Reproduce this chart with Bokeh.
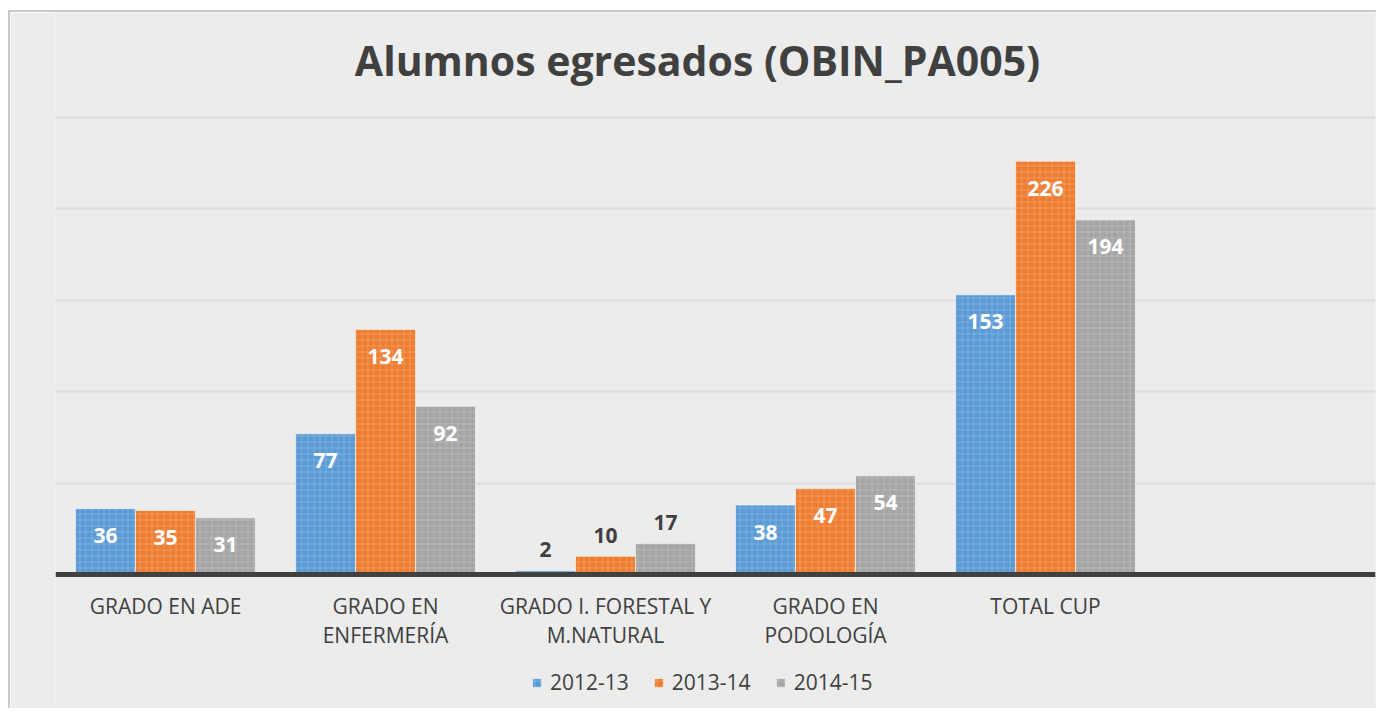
from bokeh.plotting import figure
from bokeh.models import ColumnDataSource, FactorRange, Range1d, FixedTicker, Legend, LegendItem, Label, Span
from bokeh.transform import dodge
from bokeh.core.properties import value
from bokeh.embed import file_html
from bokeh.resources import INLINE

categories = ["GRADO EN ADE", "GRADO EN\nENFERMERÍA", "GRADO I. FORESTAL Y\nM.NATURAL",
              "GRADO EN\nPODOLOGÍA", "TOTAL CUP"]
series_names = ["2012-13", "2013-14", "2014-15"]
y2012 = [36, 77, 2, 38, 153]
y2013 = [35, 134, 10, 47, 226]
y2014 = [31, 92, 17, 54, 194]
y_ticks = [50, 100, 150, 200, 250]
title_text = "Alumnos egresados (OBIN_PA005)"

colors = ["#5B9BD5", "#ED7D31", "#A5A5A5"]
FONT = "Open Sans"
DARK = "#404040"
BG = "#ECECEC"

# frame spans the whole canvas vertically: 457 px for 250 units
PX = 457 / 250
factors = categories + [" "]
p = figure(x_range=FactorRange(*factors), y_range=Range1d(-136 / PX, 562 / PX),
           width=1368, height=698, output_backend="svg", toolbar_location=None,
           min_border_left=45, min_border_right=3, min_border_top=0, min_border_bottom=0)
p.background_fill_color = BG
p.border_fill_color = BG
p.outline_line_color = None
p.styles = {"margin-left": "8px", "margin-top": "10px",
            "border-left": "2px solid #C9C9C9", "border-top": "2px solid #C9C9C9"}
p.xaxis.visible = False
p.yaxis.visible = False

src = ColumnDataSource(dict(cat=categories, s0=y2012, s1=y2013, s2=y2014))

bw = 60 / 220
offsets = [-bw, 0, bw]
renderers = []
for i, off in enumerate(offsets):
    r = p.vbar(x=dodge("cat", off, range=p.x_range), top="s%d" % i, width=bw, source=src,
               fill_color=colors[i], line_color="white", line_alpha=0.55, line_width=1,
               hatch_pattern="cross", hatch_color="white", hatch_alpha=0.18, hatch_scale=6, hatch_weight=1)
    renderers.append(r)

# value labels
series = [y2012, y2013, y2014]
for i, off in enumerate(offsets):
    vals = series[i]
    inside = dict(cat=[c for c, v in zip(categories, vals) if v >= 25],
                  v=[v for v in vals if v >= 25], t=[str(v) for v in vals if v >= 25])
    outside = dict(cat=[c for c, v in zip(categories, vals) if v < 25],
                   v=[v for v in vals if v < 25], t=[str(v) for v in vals if v < 25])
    p.text(x=dodge("cat", off, range=p.x_range), y="v", text="t", source=ColumnDataSource(inside),
           text_color="white", text_font=value(FONT), text_font_style="bold", text_font_size="21px",
           text_align="center", text_baseline="middle", y_offset=27)
    p.text(x=dodge("cat", off, range=p.x_range), y="v", text="t", source=ColumnDataSource(outside),
           text_color=DARK, text_font=value(FONT), text_font_style="bold", text_font_size="21px",
           text_align="center", text_baseline="middle", y_offset=-21)

# grid and baseline
p.ygrid.ticker = FixedTicker(ticks=y_ticks)
p.ygrid.grid_line_color = "#DCDCDC"
p.ygrid.grid_line_width = 2
p.xgrid.grid_line_color = None
p.add_layout(Span(location=0, dimension="width", line_color=DARK, line_width=5))

# category labels (two lines)
line1 = [c.split("\n")[0] for c in categories]
line2 = [c.split("\n")[1] if "\n" in c else "" for c in categories]
lab_src = ColumnDataSource(dict(cat=categories, l1=line1, l2=line2, y=[0] * len(categories)))
for col, off in (("l1", 31), ("l2", 60)):
    p.text(x="cat", y="y", text=col, source=lab_src, text_color=DARK, text_font=value(FONT),
           text_font_size="21px", text_align="center", text_baseline="middle", y_offset=off)

# title
p.add_layout(Label(x=2.918, y=515 / PX, text=title_text, text_font=FONT,
                   text_font_style="bold", text_font_size="41px", text_color=DARK,
                   text_align="center", text_baseline="middle"))

legend = Legend(items=[LegendItem(label=series_names[i], renderers=[renderers[i]]) for i in range(3)],
                orientation="horizontal", location=(476, 14),
                glyph_width=11, glyph_height=11, label_standoff=8, spacing=24, padding=0, margin=0,
                label_text_font=FONT, label_text_font_size="21px", label_text_color=DARK,
                border_line_color=None, background_fill_alpha=0)
p.add_layout(legend, "center")

open("out.html", "w").write(file_html(p, INLINE))
